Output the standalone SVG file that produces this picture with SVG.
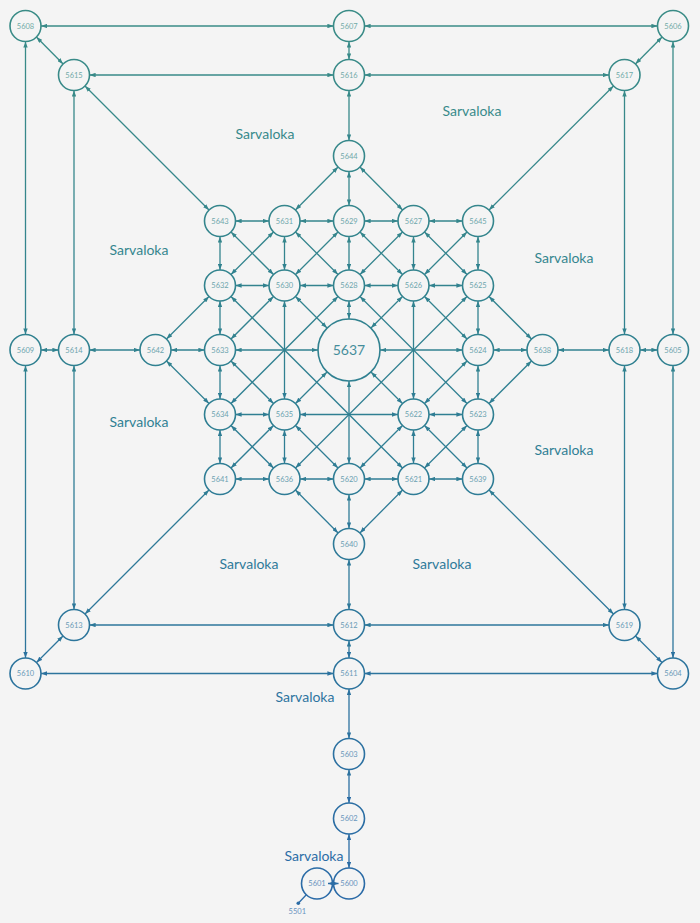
<svg xmlns="http://www.w3.org/2000/svg" width="700" height="923" viewBox="0 0 700 923">
<style>
#edges line{stroke:url(#g);stroke-width:1.3;fill:none}
.n circle{fill:#f4f4f4;stroke:url(#g);stroke-width:1.6}
.n text{font-family:Lato,"Open Sans","DejaVu Sans",sans-serif;font-size:7.5px;fill:url(#g);fill-opacity:.72;text-anchor:middle}
#n5637 text{font-size:14px;fill-opacity:.9}
.lbl{font-family:Lato,"Open Sans","DejaVu Sans",sans-serif;font-size:14px;fill:url(#g);text-anchor:middle}
.a0{marker-start:url(#s0)}.z0{marker-end:url(#s0)}
.a1{marker-start:url(#s1)}.z1{marker-end:url(#s1)}
.a2{marker-start:url(#s2)}.z2{marker-end:url(#s2)}
.a3{marker-start:url(#s3)}.z3{marker-end:url(#s3)}
.a4{marker-start:url(#s4)}.z4{marker-end:url(#s4)}
.a5{marker-start:url(#s5)}.z5{marker-end:url(#s5)}
.a6{marker-start:url(#s6)}.z6{marker-end:url(#s6)}
.A{marker-start:url(#b2)}.Z{marker-end:url(#b2)}
.t6{marker-start:url(#t6);marker-end:url(#t6)}
</style>
<defs>
<linearGradient id="g" gradientUnits="userSpaceOnUse" x1="0" y1="0" x2="0" y2="923">
<stop offset="0" stop-color="#3a8c86"/>
<stop offset="0.45" stop-color="#2f7f92"/>
<stop offset="1" stop-color="#2a69a8"/>
</linearGradient>
<marker id="s0" viewBox="0 0 6 4.4" markerWidth="6" markerHeight="4.4" refX="21.6" refY="2.2" orient="auto-start-reverse" markerUnits="userSpaceOnUse"><path d="M0,0L6,2.2L0,4.4z" fill="#388a88"/></marker>
<marker id="s1" viewBox="0 0 6 4.4" markerWidth="6" markerHeight="4.4" refX="21.6" refY="2.2" orient="auto-start-reverse" markerUnits="userSpaceOnUse"><path d="M0,0L6,2.2L0,4.4z" fill="#35868c"/></marker>
<marker id="s2" viewBox="0 0 6 4.4" markerWidth="6" markerHeight="4.4" refX="21.6" refY="2.2" orient="auto-start-reverse" markerUnits="userSpaceOnUse"><path d="M0,0L6,2.2L0,4.4z" fill="#31828f"/></marker>
<marker id="s3" viewBox="0 0 6 4.4" markerWidth="6" markerHeight="4.4" refX="21.6" refY="2.2" orient="auto-start-reverse" markerUnits="userSpaceOnUse"><path d="M0,0L6,2.2L0,4.4z" fill="#2f7d94"/></marker>
<marker id="s4" viewBox="0 0 6 4.4" markerWidth="6" markerHeight="4.4" refX="21.6" refY="2.2" orient="auto-start-reverse" markerUnits="userSpaceOnUse"><path d="M0,0L6,2.2L0,4.4z" fill="#2d7899"/></marker>
<marker id="s5" viewBox="0 0 6 4.4" markerWidth="6" markerHeight="4.4" refX="21.6" refY="2.2" orient="auto-start-reverse" markerUnits="userSpaceOnUse"><path d="M0,0L6,2.2L0,4.4z" fill="#2c729f"/></marker>
<marker id="s6" viewBox="0 0 6 4.4" markerWidth="6" markerHeight="4.4" refX="21.6" refY="2.2" orient="auto-start-reverse" markerUnits="userSpaceOnUse"><path d="M0,0L6,2.2L0,4.4z" fill="#2b6ca5"/></marker>
<marker id="b2" viewBox="0 0 6 4.4" markerWidth="6" markerHeight="4.4" refX="37.3" refY="2.2" orient="auto-start-reverse" markerUnits="userSpaceOnUse"><path d="M0,0L6,2.2L0,4.4z" fill="#31828f"/></marker>
<marker id="t6" viewBox="0 0 6 4.4" markerWidth="6" markerHeight="4.4" refX="6" refY="2.2" orient="auto-start-reverse" markerUnits="userSpaceOnUse"><path d="M0,0L6,2.2L0,4.4z" fill="#2b6ca5"/></marker>
</defs>
<rect width="700" height="923" fill="#f4f4f4"/>
<g id="edges">
<line x1="25.5" y1="26" x2="349" y2="26" class="a0 z0"/>
<line x1="349" y1="26" x2="673" y2="26" class="a0 z0"/>
<line x1="25.5" y1="26" x2="25.5" y2="350" class="a0 z2"/>
<line x1="25.5" y1="350" x2="25.5" y2="673.5" class="a2 z5"/>
<line x1="673" y1="26" x2="673" y2="350" class="a0 z2"/>
<line x1="673" y1="350" x2="673" y2="673.5" class="a2 z5"/>
<line x1="25.5" y1="673.5" x2="349" y2="673.5" class="a5 z5"/>
<line x1="349" y1="673.5" x2="673" y2="673.5" class="a5 z5"/>
<line x1="25.5" y1="26" x2="74" y2="75" class="a0 z0"/>
<line x1="673" y1="26" x2="624.5" y2="75" class="a0 z0"/>
<line x1="25.5" y1="673.5" x2="74" y2="625" class="a5 z4"/>
<line x1="673" y1="673.5" x2="624.5" y2="625" class="a5 z4"/>
<line x1="349" y1="26" x2="349" y2="75" class="a0 z0"/>
<line x1="25.5" y1="350" x2="74" y2="350" class="a2 z2"/>
<line x1="673" y1="350" x2="624.5" y2="350" class="a2 z2"/>
<line x1="349" y1="673.5" x2="349" y2="625" class="a5 z4"/>
<line x1="74" y1="75" x2="349" y2="75" class="a0 z0"/>
<line x1="349" y1="75" x2="624.5" y2="75" class="a0 z0"/>
<line x1="74" y1="75" x2="74" y2="350" class="a0 z2"/>
<line x1="74" y1="350" x2="74" y2="625" class="a2 z4"/>
<line x1="624.5" y1="75" x2="624.5" y2="350" class="a0 z2"/>
<line x1="624.5" y1="350" x2="624.5" y2="625" class="a2 z4"/>
<line x1="74" y1="625" x2="349" y2="625" class="a4 z4"/>
<line x1="349" y1="625" x2="624.5" y2="625" class="a4 z4"/>
<line x1="74" y1="75" x2="220" y2="221" class="a0 z1"/>
<line x1="624.5" y1="75" x2="478" y2="221" class="a0 z1"/>
<line x1="74" y1="625" x2="220" y2="479" class="a4 z3"/>
<line x1="624.5" y1="625" x2="478" y2="479" class="a4 z3"/>
<line x1="349" y1="75" x2="349" y2="156" class="a0 z1"/>
<line x1="74" y1="350" x2="155.5" y2="350" class="a2 z2"/>
<line x1="624.5" y1="350" x2="542.5" y2="350" class="a2 z2"/>
<line x1="349" y1="625" x2="349" y2="544" class="a4 z4"/>
<line x1="349" y1="673.5" x2="349" y2="754" class="a5 z5"/>
<line x1="349" y1="754" x2="349" y2="818.5" class="a5 z6"/>
<line x1="349" y1="818.5" x2="349" y2="883.5" class="a6 z6"/>
<line x1="349" y1="156" x2="284.5" y2="221" class="a1 z1"/>
<line x1="349" y1="156" x2="349" y2="221" class="a1 z1"/>
<line x1="349" y1="156" x2="413.5" y2="221" class="a1 z1"/>
<line x1="155.5" y1="350" x2="220" y2="285.5" class="a2 z2"/>
<line x1="155.5" y1="350" x2="220" y2="350" class="a2 z2"/>
<line x1="155.5" y1="350" x2="220" y2="414.5" class="a2 z3"/>
<line x1="542.5" y1="350" x2="478" y2="285.5" class="a2 z2"/>
<line x1="542.5" y1="350" x2="478" y2="350" class="a2 z2"/>
<line x1="542.5" y1="350" x2="478" y2="414.5" class="a2 z3"/>
<line x1="349" y1="544" x2="284.5" y2="479" class="a4 z3"/>
<line x1="349" y1="544" x2="349" y2="479" class="a4 z3"/>
<line x1="349" y1="544" x2="413.5" y2="479" class="a4 z3"/>
<line x1="220" y1="221" x2="284.5" y2="221" class="a1 z1"/>
<line x1="284.5" y1="221" x2="349" y2="221" class="a1 z1"/>
<line x1="349" y1="221" x2="413.5" y2="221" class="a1 z1"/>
<line x1="413.5" y1="221" x2="478" y2="221" class="a1 z1"/>
<line x1="220" y1="285.5" x2="284.5" y2="285.5" class="a2 z2"/>
<line x1="284.5" y1="285.5" x2="349" y2="285.5" class="a2 z2"/>
<line x1="349" y1="285.5" x2="413.5" y2="285.5" class="a2 z2"/>
<line x1="413.5" y1="285.5" x2="478" y2="285.5" class="a2 z2"/>
<line x1="220" y1="350" x2="349" y2="350" class="a2 Z"/>
<line x1="349" y1="350" x2="478" y2="350" class="A z2"/>
<line x1="220" y1="414.5" x2="284.5" y2="414.5" class="a3 z3"/>
<line x1="284.5" y1="414.5" x2="413.5" y2="414.5" class="a3 z3"/>
<line x1="413.5" y1="414.5" x2="478" y2="414.5" class="a3 z3"/>
<line x1="220" y1="479" x2="284.5" y2="479" class="a3 z3"/>
<line x1="284.5" y1="479" x2="349" y2="479" class="a3 z3"/>
<line x1="349" y1="479" x2="413.5" y2="479" class="a3 z3"/>
<line x1="413.5" y1="479" x2="478" y2="479" class="a3 z3"/>
<line x1="220" y1="221" x2="220" y2="285.5" class="a1 z2"/>
<line x1="220" y1="285.5" x2="220" y2="350" class="a2 z2"/>
<line x1="220" y1="350" x2="220" y2="414.5" class="a2 z3"/>
<line x1="220" y1="414.5" x2="220" y2="479" class="a3 z3"/>
<line x1="284.5" y1="221" x2="284.5" y2="285.5" class="a1 z2"/>
<line x1="284.5" y1="285.5" x2="284.5" y2="414.5" class="a2 z3"/>
<line x1="284.5" y1="414.5" x2="284.5" y2="479" class="a3 z3"/>
<line x1="349" y1="221" x2="349" y2="285.5" class="a1 z2"/>
<line x1="349" y1="285.5" x2="349" y2="350" class="a2 Z"/>
<line x1="349" y1="350" x2="349" y2="479" class="A z3"/>
<line x1="413.5" y1="221" x2="413.5" y2="285.5" class="a1 z2"/>
<line x1="413.5" y1="285.5" x2="413.5" y2="414.5" class="a2 z3"/>
<line x1="413.5" y1="414.5" x2="413.5" y2="479" class="a3 z3"/>
<line x1="478" y1="221" x2="478" y2="285.5" class="a1 z2"/>
<line x1="478" y1="285.5" x2="478" y2="350" class="a2 z2"/>
<line x1="478" y1="350" x2="478" y2="414.5" class="a2 z3"/>
<line x1="478" y1="414.5" x2="478" y2="479" class="a3 z3"/>
<line x1="220" y1="221" x2="284.5" y2="285.5" class="a1 z2"/>
<line x1="284.5" y1="221" x2="349" y2="285.5" class="a1 z2"/>
<line x1="349" y1="221" x2="413.5" y2="285.5" class="a1 z2"/>
<line x1="413.5" y1="221" x2="478" y2="285.5" class="a1 z2"/>
<line x1="220" y1="285.5" x2="413.5" y2="479" class="a2 z3"/>
<line x1="284.5" y1="285.5" x2="349" y2="350" class="a2 Z"/>
<line x1="349" y1="285.5" x2="478" y2="414.5" class="a2 z3"/>
<line x1="413.5" y1="285.5" x2="478" y2="350" class="a2 z2"/>
<line x1="220" y1="350" x2="284.5" y2="414.5" class="a2 z3"/>
<line x1="349" y1="350" x2="413.5" y2="414.5" class="A z3"/>
<line x1="220" y1="414.5" x2="284.5" y2="479" class="a3 z3"/>
<line x1="284.5" y1="414.5" x2="349" y2="479" class="a3 z3"/>
<line x1="413.5" y1="414.5" x2="478" y2="479" class="a3 z3"/>
<line x1="220" y1="285.5" x2="284.5" y2="221" class="a2 z1"/>
<line x1="284.5" y1="285.5" x2="349" y2="221" class="a2 z1"/>
<line x1="349" y1="285.5" x2="413.5" y2="221" class="a2 z1"/>
<line x1="413.5" y1="285.5" x2="478" y2="221" class="a2 z1"/>
<line x1="220" y1="350" x2="284.5" y2="285.5" class="a2 z2"/>
<line x1="220" y1="414.5" x2="349" y2="285.5" class="a3 z2"/>
<line x1="349" y1="350" x2="413.5" y2="285.5" class="A z2"/>
<line x1="220" y1="479" x2="284.5" y2="414.5" class="a3 z3"/>
<line x1="284.5" y1="414.5" x2="349" y2="350" class="a3 Z"/>
<line x1="284.5" y1="479" x2="478" y2="285.5" class="a3 z2"/>
<line x1="349" y1="479" x2="413.5" y2="414.5" class="a3 z3"/>
<line x1="413.5" y1="414.5" x2="478" y2="350" class="a3 z2"/>
<line x1="413.5" y1="479" x2="478" y2="414.5" class="a3 z3"/>
<line x1="306.3" y1="894.8" x2="298.3" y2="903.3"/>
</g>
<g id="nodes">
<g id="n5608" class="n"><circle cx="25.5" cy="26" r="15.5"/><text x="25.5" y="28.7">5608</text></g>
<g id="n5607" class="n"><circle cx="349" cy="26" r="15.5"/><text x="349" y="28.7">5607</text></g>
<g id="n5606" class="n"><circle cx="673" cy="26" r="15.5"/><text x="673" y="28.7">5606</text></g>
<g id="n5615" class="n"><circle cx="74" cy="75" r="15.5"/><text x="74" y="77.7">5615</text></g>
<g id="n5616" class="n"><circle cx="349" cy="75" r="15.5"/><text x="349" y="77.7">5616</text></g>
<g id="n5617" class="n"><circle cx="624.5" cy="75" r="15.5"/><text x="624.5" y="77.7">5617</text></g>
<g id="n5644" class="n"><circle cx="349" cy="156" r="15.5"/><text x="349" y="158.7">5644</text></g>
<g id="n5643" class="n"><circle cx="220" cy="221" r="15.5"/><text x="220" y="223.7">5643</text></g>
<g id="n5631" class="n"><circle cx="284.5" cy="221" r="15.5"/><text x="284.5" y="223.7">5631</text></g>
<g id="n5629" class="n"><circle cx="349" cy="221" r="15.5"/><text x="349" y="223.7">5629</text></g>
<g id="n5627" class="n"><circle cx="413.5" cy="221" r="15.5"/><text x="413.5" y="223.7">5627</text></g>
<g id="n5645" class="n"><circle cx="478" cy="221" r="15.5"/><text x="478" y="223.7">5645</text></g>
<g id="n5632" class="n"><circle cx="220" cy="285.5" r="15.5"/><text x="220" y="288.2">5632</text></g>
<g id="n5630" class="n"><circle cx="284.5" cy="285.5" r="15.5"/><text x="284.5" y="288.2">5630</text></g>
<g id="n5628" class="n"><circle cx="349" cy="285.5" r="15.5"/><text x="349" y="288.2">5628</text></g>
<g id="n5626" class="n"><circle cx="413.5" cy="285.5" r="15.5"/><text x="413.5" y="288.2">5626</text></g>
<g id="n5625" class="n"><circle cx="478" cy="285.5" r="15.5"/><text x="478" y="288.2">5625</text></g>
<g id="n5609" class="n"><circle cx="25.5" cy="350" r="15.5"/><text x="25.5" y="352.7">5609</text></g>
<g id="n5614" class="n"><circle cx="74" cy="350" r="15.5"/><text x="74" y="352.7">5614</text></g>
<g id="n5642" class="n"><circle cx="155.5" cy="350" r="15.5"/><text x="155.5" y="352.7">5642</text></g>
<g id="n5633" class="n"><circle cx="220" cy="350" r="15.5"/><text x="220" y="352.7">5633</text></g>
<g id="n5637" class="n"><circle cx="349" cy="350" r="31"/><text x="349" y="355">5637</text></g>
<g id="n5624" class="n"><circle cx="478" cy="350" r="15.5"/><text x="478" y="352.7">5624</text></g>
<g id="n5638" class="n"><circle cx="542.5" cy="350" r="15.5"/><text x="542.5" y="352.7">5638</text></g>
<g id="n5618" class="n"><circle cx="624.5" cy="350" r="15.5"/><text x="624.5" y="352.7">5618</text></g>
<g id="n5605" class="n"><circle cx="673" cy="350" r="15.5"/><text x="673" y="352.7">5605</text></g>
<g id="n5634" class="n"><circle cx="220" cy="414.5" r="15.5"/><text x="220" y="417.2">5634</text></g>
<g id="n5635" class="n"><circle cx="284.5" cy="414.5" r="15.5"/><text x="284.5" y="417.2">5635</text></g>
<g id="n5622" class="n"><circle cx="413.5" cy="414.5" r="15.5"/><text x="413.5" y="417.2">5622</text></g>
<g id="n5623" class="n"><circle cx="478" cy="414.5" r="15.5"/><text x="478" y="417.2">5623</text></g>
<g id="n5641" class="n"><circle cx="220" cy="479" r="15.5"/><text x="220" y="481.7">5641</text></g>
<g id="n5636" class="n"><circle cx="284.5" cy="479" r="15.5"/><text x="284.5" y="481.7">5636</text></g>
<g id="n5620" class="n"><circle cx="349" cy="479" r="15.5"/><text x="349" y="481.7">5620</text></g>
<g id="n5621" class="n"><circle cx="413.5" cy="479" r="15.5"/><text x="413.5" y="481.7">5621</text></g>
<g id="n5639" class="n"><circle cx="478" cy="479" r="15.5"/><text x="478" y="481.7">5639</text></g>
<g id="n5640" class="n"><circle cx="349" cy="544" r="15.5"/><text x="349" y="546.7">5640</text></g>
<g id="n5613" class="n"><circle cx="74" cy="625" r="15.5"/><text x="74" y="627.7">5613</text></g>
<g id="n5612" class="n"><circle cx="349" cy="625" r="15.5"/><text x="349" y="627.7">5612</text></g>
<g id="n5619" class="n"><circle cx="624.5" cy="625" r="15.5"/><text x="624.5" y="627.7">5619</text></g>
<g id="n5610" class="n"><circle cx="25.5" cy="673.5" r="15.5"/><text x="25.5" y="676.2">5610</text></g>
<g id="n5611" class="n"><circle cx="349" cy="673.5" r="15.5"/><text x="349" y="676.2">5611</text></g>
<g id="n5604" class="n"><circle cx="673" cy="673.5" r="15.5"/><text x="673" y="676.2">5604</text></g>
<g id="n5603" class="n"><circle cx="349" cy="754" r="15.5"/><text x="349" y="756.7">5603</text></g>
<g id="n5602" class="n"><circle cx="349" cy="818.5" r="15.5"/><text x="349" y="821.2">5602</text></g>
<g id="n5601" class="n"><circle cx="317" cy="883.5" r="15.5"/><text x="317" y="886.2">5601</text></g>
<g id="n5600" class="n"><circle cx="349" cy="883.5" r="15.5"/><text x="349" y="886.2">5600</text></g>
<g id="n5501" class="n"><circle cx="298.3" cy="903.3" r="1.8" style="fill:#2b6ca5;stroke:none"/><text x="297.3" y="913.5">5501</text></g>
</g>
<g id="junction"><line x1="338.5" y1="883.5" x2="328" y2="883.5" class="t6" style="stroke:#2b6ca5;stroke-width:1.5"/></g>
<g id="labels">
<text class="lbl" x="265" y="139">Sarvaloka</text>
<text class="lbl" x="472" y="116">Sarvaloka</text>
<text class="lbl" x="139" y="255">Sarvaloka</text>
<text class="lbl" x="564" y="263">Sarvaloka</text>
<text class="lbl" x="139" y="427">Sarvaloka</text>
<text class="lbl" x="564" y="455">Sarvaloka</text>
<text class="lbl" x="249" y="569">Sarvaloka</text>
<text class="lbl" x="442" y="569">Sarvaloka</text>
<text class="lbl" x="305" y="702">Sarvaloka</text>
<text class="lbl" x="314" y="861">Sarvaloka</text>
</g>
</svg>
